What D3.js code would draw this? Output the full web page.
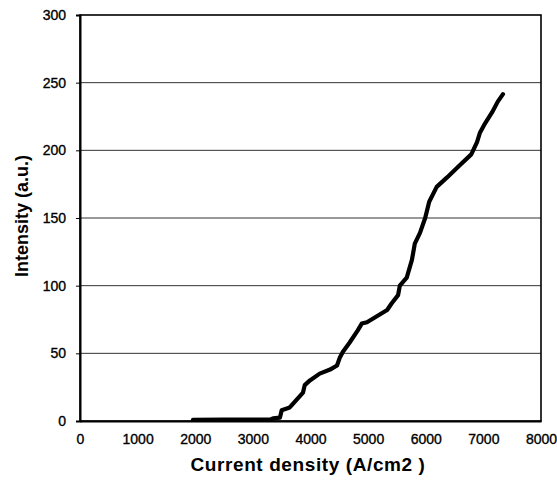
<!DOCTYPE html>
<html>
<head>
<meta charset="utf-8">
<script src="https://cdn.jsdelivr.net/npm/d3@7"></script>
<style>
  body { margin: 0; background: #fff; }
  text { font-family: "Liberation Sans", Arial, sans-serif; fill: #000; }
</style>
</head>
<body>
<div id="chart"></div>
<script>
const width = 557
const height = 482
const margin = { top: 15, right: 16, bottom: 61, left: 80 }

// values
const currentDensity = [1960, 2500, 3000, 3300, 3350, 3470, 3500, 3640, 3870, 3900, 3990, 4160, 4340, 4460, 4510, 4560, 4680, 4820, 4890, 4980, 5330, 5410, 5520, 5550, 5670, 5760, 5810, 5900, 5990, 6060, 6190, 6370, 6590, 6790, 6890, 6940, 7030, 7150, 7250, 7340]
const intensity = [0.8, 1, 1, 1, 2, 2.5, 8, 10, 21, 26.5, 30, 35, 38, 41, 47, 51, 58, 67, 72, 73, 82, 87, 93, 100, 106, 119, 131, 139, 150, 162, 173, 180, 189, 197, 206, 213, 220, 228, 236, 241.5]
const xTicks = [0, 1000, 2000, 3000, 4000, 5000, 6000, 7000, 8000]
const yTicks = [0, 50, 100, 150, 200, 250, 300]

const points = currentDensity.map((d, i) => ({ x: d, y: intensity[i] }))

const svg = d3.select('#chart')
  .append('svg')
  .attr('width', width)
  .attr('height', height)

const x = d3.scaleLinear().domain([0, 8000]).range([margin.left, width - margin.right])
const y = d3.scaleLinear().domain([0, 300]).range([height - margin.bottom, margin.top])

// gridlines
svg.append('g')
  .selectAll('line')
  .data(yTicks.filter((d) => d > 0 && d < 300))
  .enter()
  .append('line')
  .attr('x1', x(0))
  .attr('x2', x(8000))
  .attr('y1', (d) => y(d))
  .attr('y2', (d) => y(d))
  .attr('stroke', '#333')
  .attr('stroke-width', 1)

// frame
svg.append('rect')
  .attr('x', x(0))
  .attr('y', y(300))
  .attr('width', x(8000) - x(0))
  .attr('height', y(0) - y(300))
  .attr('fill', 'none')
  .attr('stroke', '#000')
  .attr('stroke-width', 1.6)

function styleTicks(g) {
  g.selectAll('text')
    .attr('font-size', 14)
    .attr('stroke', '#000')
    .attr('stroke-width', 0.35)
    .style('font-family', '"Liberation Sans", Arial, sans-serif')
}

const yAxis = svg.append('g')
  .attr('transform', `translate(${x(0)},0)`)
  .call(d3.axisLeft(y).tickValues(yTicks).tickSize(4).tickPadding(10))
yAxis.select('.domain').attr('stroke-width', 2)
styleTicks(yAxis)

const xAxis = svg.append('g')
  .attr('transform', `translate(0,${y(0)})`)
  .call(d3.axisBottom(x).tickValues(xTicks).tickFormat(d3.format('d')).tickSize(0).tickPadding(13))
xAxis.select('.domain').attr('stroke-width', 2)
styleTicks(xAxis)

// curve
const line = d3.line()
  .x((d) => x(d.x))
  .y((d) => y(d.y))

svg.append('path')
  .datum(points)
  .attr('d', line)
  .attr('fill', 'none')
  .attr('stroke', '#000')
  .attr('stroke-width', 4.2)
  .attr('stroke-linejoin', 'round')
  .attr('stroke-linecap', 'round')

// axis titles
svg.append('text')
  .attr('x', 308)
  .attr('y', 471)
  .attr('text-anchor', 'middle')
  .attr('font-size', 19)
  .attr('font-weight', 'bold')
  .attr('letter-spacing', 0.6)
  .text('Current density (A/cm2 )')

svg.append('text')
  .attr('transform', `translate(28, 216) rotate(-90)`)
  .attr('text-anchor', 'middle')
  .attr('font-size', 18)
  .attr('font-weight', 'bold')
  .text('Intensity (a.u.)')
</script>
</body>
</html>
